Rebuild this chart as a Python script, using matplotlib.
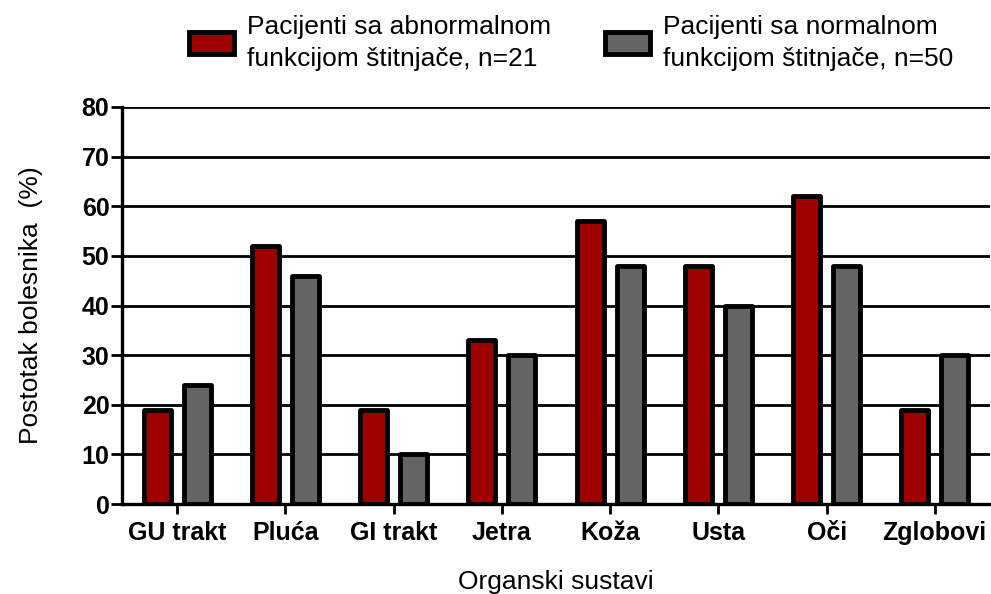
import numpy as np
import matplotlib.pyplot as plt

plt.rcParams['font.family'] = ['Liberation Sans', 'DejaVu Sans']

# --- data ---
categories = ["GU trakt", "Pluća", "GI trakt", "Jetra", "Koža", "Usta", "Oči", "Zglobovi"]
abnormal = [19, 52, 19, 33, 57, 48, 62, 19]
normal = [24, 46, 10, 30, 48, 40, 48, 30]
label_abn = "Pacijenti sa abnormalnom\nfunkcijom štitnjače, n=21"
label_norm = "Pacijenti sa normalnom\nfunkcijom štitnjače, n=50"

red = "#9E0000"
gray = "#646464"

fig = plt.figure(figsize=(9.91, 5.94), dpi=100)
ax = fig.add_axes([122/991, 1 - 504/594, 868/991, (504 - 107)/594])

x = np.arange(len(categories))
w = 0.25
off = 0.185

for y in range(10, 81, 10):
    ax.axhline(y, color="black", lw=2.0, zorder=1)

b1 = ax.bar(x - off, abnormal, w, color=red, edgecolor="black", linewidth=3.5,
            joinstyle="round", label=label_abn, zorder=3)
b2 = ax.bar(x + off, normal, w, color=gray, edgecolor="black", linewidth=3.5,
            joinstyle="round", label=label_norm, zorder=3)

ax.set_xlim(-0.51, len(categories) - 0.49)
ax.set_ylim(0, 80)
ax.set_yticks(range(0, 81, 10))
ax.set_xticks(x)
ax.set_xticklabels(categories)

for lab in ax.get_xticklabels() + ax.get_yticklabels():
    lab.set_fontweight("bold")
    lab.set_fontsize(18)
ax.tick_params(axis="y", length=8, width=2, pad=1)
ax.tick_params(axis="x", length=7, width=2, pad=5)

for s in ["top", "right"]:
    ax.spines[s].set_visible(False)
for s in ["left", "bottom"]:
    ax.spines[s].set_linewidth(2.4)
    ax.spines[s].set_zorder(4)

ax.set_xlabel("Organski sustavi", fontsize=19, labelpad=18)
ax.set_ylabel("Postotak bolesnika  (%)", fontsize=19, labelpad=28)

leg = fig.legend(handles=[b1, b2], loc="upper left", bbox_to_anchor=(189/991, 1 - 15/594),
                 ncol=2, frameon=False, fontsize=19, handlelength=1.7, handleheight=0.9,
                 columnspacing=2.05, handletextpad=0.5, borderpad=0, borderaxespad=0)
for t in leg.get_texts():
    t.set_linespacing(1.4)

fig.savefig("out.png", dpi=100)
